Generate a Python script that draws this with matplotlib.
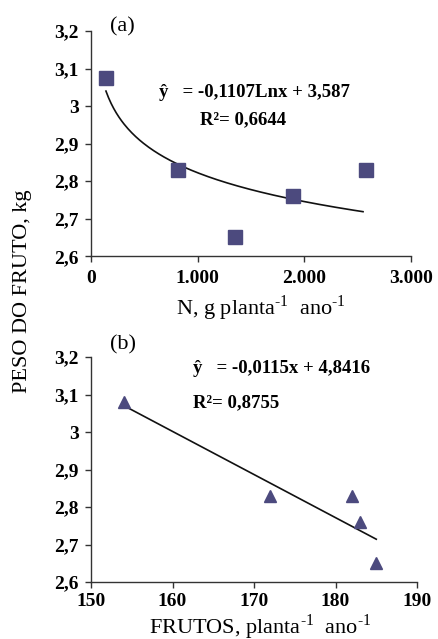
import numpy as np
import matplotlib
matplotlib.use("Agg")
import matplotlib.pyplot as plt
from matplotlib.ticker import FuncFormatter

plt.rcParams['font.family'] = ['Liberation Serif', 'DejaVu Serif']
plt.rcParams['mathtext.fontset'] = 'custom'
plt.rcParams['mathtext.rm'] = 'Liberation Serif'
plt.rcParams['mathtext.bf'] = 'Liberation Serif:bold'

# (a) nitrogen dose vs fruit weight
n_dose = [140, 815, 1350, 1895, 2575]
peso_a = [3.075, 2.83, 2.65, 2.76, 2.83]
coef_a = (-0.1107, 3.587)

# (b) fruits per plant vs fruit weight
frutos = [154, 172, 182, 183, 185]
peso_b = [3.08, 2.83, 2.83, 2.76, 2.65]
coef_b = (-0.0115, 4.8416)

yticks = [2.6, 2.7, 2.8, 2.9, 3.0, 3.1, 3.2]
xticks_a = [0, 1000, 2000, 3000]
xticks_b = [150, 160, 170, 180, 190]

mk_color = '#4c4a7e'
TICK_FS = 14
EQ_FS = 13.5
LAB_FS = 16

fig = plt.figure(figsize=(4.38, 6.39), dpi=100)
ax1 = fig.add_axes([0.2078, 0.599, 0.7306, 0.3525])
ax2 = fig.add_axes([0.2078, 0.0892, 0.7443, 0.3521])


def comma(v, pos):
    s = ('%.1f' % v).replace('.', ',')
    return '3' if s == '3,0' else s


def thousands(v, pos):
    return '0' if v == 0 else '{:,.0f}'.format(v).replace(',', '.')


for ax in (ax1, ax2):
    ax.spines['top'].set_visible(False)
    ax.spines['right'].set_visible(False)
    for sp in ('left', 'bottom'):
        ax.spines[sp].set_color('#333333')
        ax.spines[sp].set_linewidth(1.0)
    ax.set_ylim(2.6, 3.2)
    ax.set_yticks(yticks)
    ax.yaxis.set_major_formatter(FuncFormatter(comma))
    ax.tick_params(direction='out', length=4, width=1, color='#333333',
                   labelsize=TICK_FS, pad=5)

sup = '$^{\\mathrm{\u2010}1}$'

# panel a
ax1.set_xlim(0, 3000)
ax1.set_xticks(xticks_a)
ax1.xaxis.set_major_formatter(FuncFormatter(thousands))
ax1.tick_params(axis='x', pad=6)
for lab in ax1.get_xticklabels() + ax1.get_yticklabels():
    lab.set_fontweight('bold')
xs = np.linspace(n_dose[0], 2550, 200)
ax1.plot(xs, coef_a[0] * np.log(xs) + coef_a[1], color='#111111', lw=1.2)
ax1.plot(n_dose, peso_a, 's', color=mk_color, markersize=10.5, clip_on=False)
ax1.text(637, 3.035, 'ŷ   = -0,1107Lnx + 3,587', fontsize=EQ_FS,
         fontweight='bold', va='center')
ax1.text(1022, 2.963, 'R²= 0,6644', fontsize=EQ_FS, fontweight='bold',
         va='center')
ax1.text(0.06, 1.02, '(a)', transform=ax1.transAxes, fontsize=LAB_FS,
         va='center')
ax1.text(0.53, -0.23, 'N, g planta' + sup + '  ano' + sup,
         transform=ax1.transAxes, fontsize=LAB_FS, ha='center', va='center')

# panel b
ax2.set_xlim(150, 190)
ax2.set_xticks(xticks_b)
ax2.tick_params(axis='x', pad=4)
for lab in ax2.get_xticklabels() + ax2.get_yticklabels():
    lab.set_fontweight('bold')
xb = np.array([154, 185])
ax2.plot(xb, coef_b[0] * xb + coef_b[1], color='#111111', lw=1.2)
ax2.plot(frutos, peso_b, '^', color=mk_color, markersize=9, clip_on=False)
ax2.text(162.5, 3.17, 'ŷ   = -0,0115x + 4,8416', fontsize=EQ_FS,
         fontweight='bold', va='center')
ax2.text(162.5, 3.077, 'R²= 0,8755', fontsize=EQ_FS, fontweight='bold',
         va='center')
ax2.text(0.058, 1.055, '(b)', transform=ax2.transAxes, fontsize=LAB_FS,
         va='center')
ax2.text(0.52, -0.2, 'FRUTOS, planta' + sup + '  ano' + sup,
         transform=ax2.transAxes, fontsize=LAB_FS, ha='center', va='center')

fig.text(0.052, 1 - 291 / 639, 'PESO DO FRUTO, kg', rotation=90,
         fontsize=LAB_FS, ha='center', va='center')

fig.savefig('out.png', dpi=100)
